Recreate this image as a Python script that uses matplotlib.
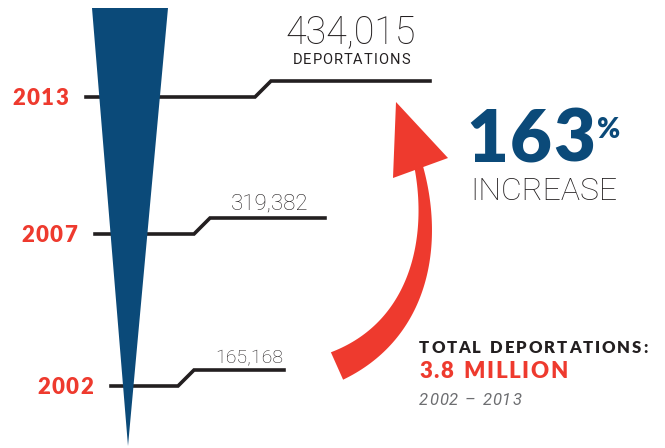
import numpy as np
import matplotlib
matplotlib.use("Agg")
import matplotlib.pyplot as plt
from matplotlib.patches import Polygon

# ---- data ----
years = ["2002", "2007", "2013"]
values = [165168, 319382, 434015]
value_labels = ["165,168", "319,382", "434,015"]
increase_pct = "163"
total_label = "3.8 MILLION"
period_label = "2002 \u2013 2013"

# ---- layout (pixel space of the canvas) ----
BLUE = "#0b4a79"
RED = "#ee3a2e"
INK = "#231f20"
GREY = "#6d6e71"
BOLD = "Lato"
LIGHT = "Roboto"

line_y = [386, 234, 97]
line_x0 = [111, 95, 86]
step_x = [178, 194, 255]
line_x1 = [284, 325, 430]
step_h = 16

fig = plt.figure(figsize=(6.65, 4.48), dpi=100)
ax = fig.add_axes([0, 0, 1, 1])
ax.set_xlim(0, 665)
ax.set_ylim(448, 0)
ax.axis("off")
renderer = fig.canvas.get_renderer()


def spaced(x, y, s, spacing, ha="left", **kw):
    """Draw text with extra letter spacing (pixels)."""
    arts = []
    widths = []
    for ch in s:
        t = ax.text(0, y, ch, ha="left", va="baseline", **kw)
        if ch == " ":
            t.set_text("n")
            w = t.get_window_extent(renderer).width * 0.55
            t.set_text("")
        else:
            w = t.get_window_extent(renderer).width
        arts.append(t)
        widths.append(w)
    total = sum(widths) + spacing * (len(s) - 1)
    cx = x
    if ha == "right":
        cx = x - total
    elif ha == "center":
        cx = x - total / 2
    for t, w in zip(arts, widths):
        t.set_x(cx)
        cx += w + spacing


# wedge (drawn above the leader lines)
ax.add_patch(Polygon([(92, 8), (168, 8), (128, 446)], closed=True,
                     facecolor=BLUE, edgecolor="none", zorder=4))

for i, yr in enumerate(years):
    y = line_y[i]
    xs = [line_x0[i], step_x[i], step_x[i] + 16, line_x1[i]]
    ys = [y, y, y - step_h, y - step_h]
    ax.plot(xs, ys, color=INK, lw=2.6, solid_joinstyle="miter", zorder=3)
    spaced(line_x0[i] - 18, y + 8, yr, 1.2, ha="right", color=RED,
           fontsize=16, fontweight="heavy", family=BOLD)

# value labels
ax.text(351, 43, value_labels[2], ha="center", va="baseline", color=INK,
        fontsize=27, fontweight="light", family=LIGHT)
spaced(351, 64, "DEPORTATIONS", 1.0, ha="center", color=INK,
       fontsize=10.5, fontweight="normal", family=LIGHT)
ax.text(308, 209, value_labels[1], ha="right", va="baseline", color=INK,
        fontsize=16, fontweight="light", family=LIGHT)
ax.text(283, 363, value_labels[0], ha="right", va="baseline", color=INK,
        fontsize=14, fontweight="light", family=LIGHT)

# curved arrow
t = np.linspace(0, 1, 80)[:, None]
P0 = np.array([337, 366]); P1 = np.array([420, 330])
P2 = np.array([438, 240]); P3 = np.array([417, 160])
c = ((1 - t) ** 3) * P0 + 3 * ((1 - t) ** 2) * t * P1 + 3 * (1 - t) * t ** 2 * P2 + t ** 3 * P3
d = np.gradient(c, axis=0)
n = np.stack([-d[:, 1], d[:, 0]], axis=1)
n /= np.linalg.norm(n, axis=1)[:, None]
w = (30 * (1 - t) + 8 * t) / 2
shaft = np.vstack([c + n * w, (c - n * w)[::-1]])
ax.add_patch(Polygon(shaft, closed=True, facecolor=RED, edgecolor="none", zorder=2))
ax.add_patch(Polygon([(396, 102), (448, 158), (393, 178)], closed=True,
                     facecolor=RED, edgecolor="none", zorder=2))

# headline
spaced(466, 162, increase_pct, 1.5, color=BLUE,
       fontsize=52, fontweight="heavy", family=BOLD)
ax.text(597, 138, "%", ha="left", va="baseline", color=BLUE,
        fontsize=20, fontweight="heavy", family=BOLD)
ax.text(470, 200, "INCREASE", ha="left", va="baseline", color=INK,
        fontsize=23, fontweight="light", family=LIGHT)

spaced(419, 353, "TOTAL DEPORTATIONS:", 1.9, color=INK,
       fontsize=12, fontweight="heavy", family=BOLD)
spaced(419, 378, total_label, 1.6, color=RED,
       fontsize=16, fontweight="heavy", family=BOLD)
spaced(419, 405, period_label, 1.0, color=GREY,
       fontsize=12, fontweight="normal", style="italic", family=LIGHT)

fig.savefig("out.png", dpi=100)
